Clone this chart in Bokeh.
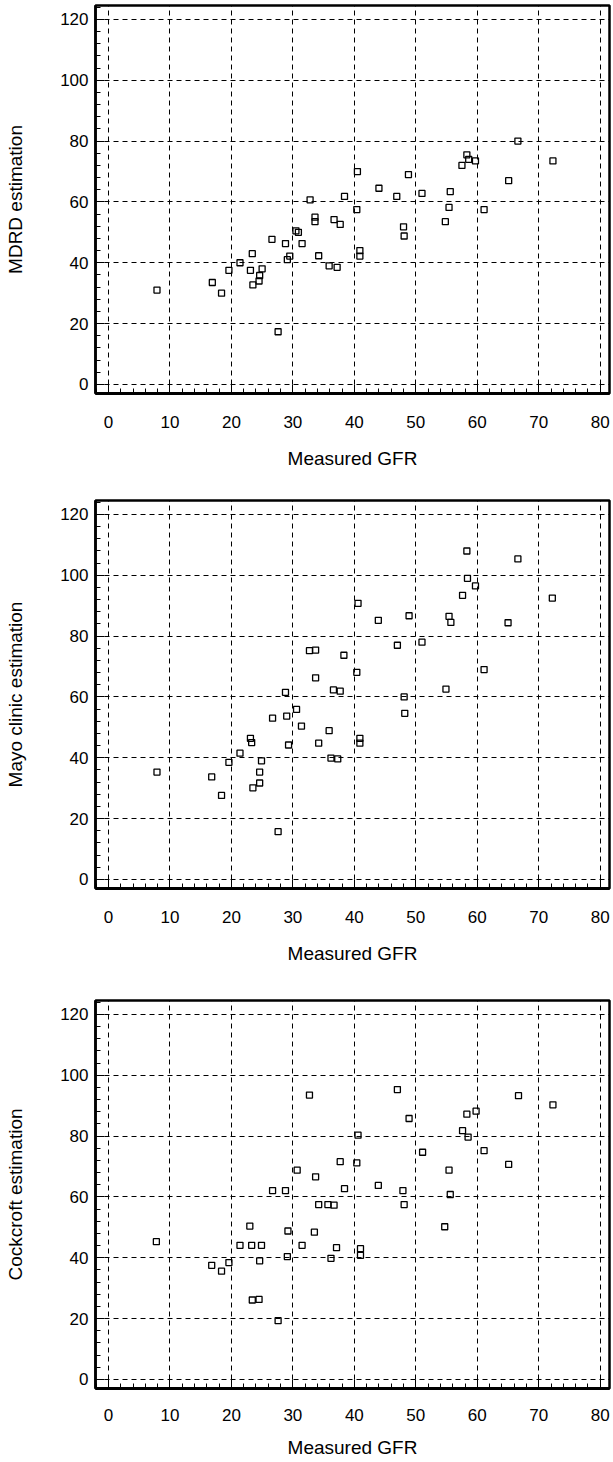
from bokeh.plotting import figure
from bokeh.layouts import column
from bokeh.models import Range1d, FixedTicker
from bokeh.embed import file_html
from bokeh.resources import INLINE

x_ticks = [0, 10, 20, 30, 40, 50, 60, 70, 80]
y_ticks = [0, 20, 40, 60, 80, 100, 120]
x_title = "Measured GFR"

gfr_mdrd = [7.9, 16.9, 18.4, 19.6, 21.4, 23.1, 23.4, 23.5, 24.5, 24.6, 25.0, 26.6, 27.6, 28.8, 29.1, 29.5,
            30.5, 30.9, 31.5, 32.8, 33.6, 33.6, 34.2, 35.9, 36.7, 37.2, 37.7, 38.4, 40.4, 40.5, 40.9, 40.9,
            44.0, 46.9, 48.0, 48.1, 48.8, 51.0, 54.8, 55.4, 55.6, 57.5, 58.3, 58.6, 59.7, 61.1, 65.1, 66.6, 72.3]
mdrd = [31.0, 33.5, 30.0, 37.5, 40.0, 37.5, 43.0, 32.7, 34.0, 35.8, 38.0, 47.7, 17.3, 46.3, 41.0, 42.2,
        50.5, 50.0, 46.3, 60.7, 55.0, 53.5, 42.3, 39.0, 54.2, 38.5, 52.6, 61.8, 57.5, 70.0, 44.0, 42.2,
        64.5, 61.8, 51.8, 48.8, 69.0, 62.8, 53.5, 58.2, 63.4, 72.0, 75.5, 74.0, 73.5, 57.5, 67.0, 80.0, 73.5]

gfr_mayo = [7.9, 16.8, 18.4, 19.6, 21.4, 23.1, 23.3, 23.5, 24.6, 24.6, 24.9, 26.7, 27.6, 28.8, 29.0, 29.3,
            30.6, 31.4, 32.7, 33.7, 33.7, 34.2, 35.9, 36.2, 36.6, 37.3, 37.7, 38.3, 40.4, 40.6, 40.9, 40.9,
            43.9, 47.0, 48.1, 48.2, 48.9, 51.0, 54.9, 55.4, 55.7, 57.6, 58.3, 58.4, 59.7, 61.1, 65.0, 66.6, 72.2]
mayo = [35.3, 33.7, 27.6, 38.5, 41.5, 46.4, 45.0, 30.1, 35.3, 31.7, 39.0, 53.0, 15.7, 61.5, 53.7, 44.2,
        55.9, 50.4, 75.2, 75.4, 66.3, 44.8, 48.9, 39.9, 62.3, 39.6, 61.9, 73.7, 68.1, 90.8, 46.4, 44.8,
        85.2, 77.0, 60.0, 54.6, 86.7, 78.0, 62.6, 86.5, 84.5, 93.4, 108.0, 99.0, 96.5, 69.0, 84.4, 105.4, 92.5]

gfr_cock = [7.8, 16.8, 18.4, 19.6, 21.4, 23.0, 23.3, 23.4, 24.5, 24.6, 24.9, 26.7, 27.6, 28.8, 29.1, 29.2,
            30.7, 31.5, 32.7, 33.5, 33.7, 34.2, 35.7, 36.2, 36.7, 37.1, 37.7, 38.4, 40.4, 40.6, 41.0, 41.0,
            43.9, 47.0, 47.9, 48.1, 48.9, 51.1, 54.7, 55.4, 55.6, 57.6, 58.3, 58.5, 59.8, 61.1, 65.1, 66.7, 72.3]
cock = [45.3, 37.5, 35.6, 38.4, 44.1, 50.4, 44.1, 26.1, 26.3, 39.0, 44.1, 62.1, 19.3, 62.1, 40.4, 48.8,
        68.8, 44.1, 93.5, 48.4, 66.6, 57.5, 57.5, 39.8, 57.3, 43.3, 71.6, 62.7, 71.2, 80.3, 43.0, 40.8,
        63.8, 95.3, 62.1, 57.5, 85.8, 74.7, 50.2, 68.8, 60.8, 81.8, 87.2, 79.7, 88.2, 75.2, 70.7, 93.3, 90.3]

FONT = "Liberation Sans"


def make_panel(xs, ys, ylabel, height, top, bottom, tick_standoff, label_standoff):
    p = figure(width=613, height=height,
               x_range=Range1d(-2.1, 81.5), y_range=Range1d(-3.0, 124.6),
               output_backend="svg", toolbar_location=None,
               min_border_left=95, min_border_right=4,
               min_border_top=top, min_border_bottom=bottom)
    p.background_fill_color = "white"
    p.border_fill_color = "white"
    p.outline_line_color = "black"
    p.outline_line_width = 2.5

    xminor = [v for v in range(-2, 82, 2) if v % 10 != 0]
    yminor = [v for v in range(0, 125, 4) if v % 20 != 0]
    p.xaxis.ticker = FixedTicker(ticks=x_ticks, minor_ticks=xminor)
    p.yaxis.ticker = FixedTicker(ticks=y_ticks, minor_ticks=yminor)
    p.xgrid.ticker = FixedTicker(ticks=x_ticks)
    p.ygrid.ticker = FixedTicker(ticks=y_ticks)
    for g in (p.xgrid, p.ygrid):
        g.grid_line_color = "black"
        g.grid_line_dash = "5 4"
        g.grid_line_width = 1

    for ax in (p.xaxis, p.yaxis):
        ax.axis_line_color = "black"
        ax.axis_line_width = 2.5
        ax.major_tick_in = 9
        ax.major_tick_out = 0
        ax.minor_tick_in = 5
        ax.minor_tick_out = 0
        ax.major_tick_line_color = "black"
        ax.minor_tick_line_color = "black"
        ax.major_label_text_font = FONT
        ax.major_label_text_font_size = "17px"
        ax.major_label_text_color = "black"
        ax.axis_label_text_font = FONT
        ax.axis_label_text_font_size = "19px"
        ax.axis_label_text_font_style = "normal"
        ax.axis_label_text_color = "black"
    p.xaxis.axis_line_width = 3
    p.xaxis.major_label_standoff = tick_standoff
    p.yaxis.major_label_standoff = 7
    p.xaxis.axis_label = x_title
    p.xaxis.axis_label_standoff = label_standoff
    p.yaxis.axis_label = ylabel
    p.yaxis.axis_label_standoff = 31

    p.scatter(xs, ys, marker="square", size=6, fill_color=None,
              line_color="black", line_width=1.3)
    return p


p1 = make_panel(gfr_mdrd, mdrd, "MDRD estimation", 496, 5, 103, 22, 17)
p2 = make_panel(gfr_mayo, mayo, "Mayo clinic estimation", 500, 4, 108, 22, 17)
p3 = make_panel(gfr_cock, cock, "Cockcroft estimation", 464, 4, 72, 20, 13)

layout = column(p1, p2, p3, spacing=0)
open("out.html", "w").write(file_html(layout, INLINE))
